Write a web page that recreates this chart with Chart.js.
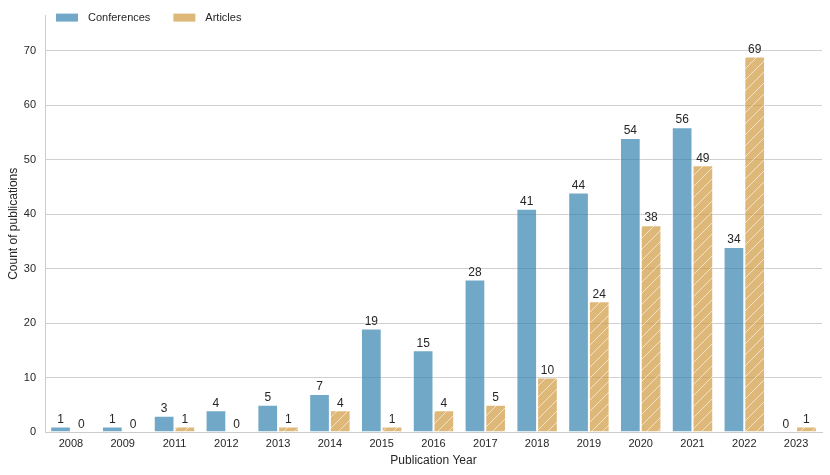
<!DOCTYPE html>
<html>
<head>
<meta charset="utf-8">
<script src="https://cdn.jsdelivr.net/npm/chart.js@4"></script>
<style>
  html, body { margin: 0; padding: 0; background: #fff; }
  #wrap { width: 830px; height: 475px; }
</style>
</head>
<body>
<div id="wrap"><canvas id="pubChart" width="830" height="475"></canvas></div>
<script>
const years = ["2008","2009","2011","2012","2013","2014","2015","2016","2017","2018","2019","2020","2021","2022","2023"];
const conferences = [1,1,3,4,5,7,19,15,28,41,44,54,56,34,0];
const articles = [0,0,1,0,1,4,1,4,5,10,24,38,49,69,1];
const yTicks = [0,10,20,30,40,50,60,70];

// translucent like the seaborn bars, so grid lines show through
const BLUE = 'rgba(54,131,175,0.7)';
const TAN = 'rgba(208,154,62,0.7)';
const FONT = '"Liberation Sans", Arial, sans-serif';

function hatch(base) {
  const s = 11;
  const c = document.createElement('canvas');
  c.width = s; c.height = s;
  const g = c.getContext('2d');
  g.fillStyle = base;
  g.fillRect(0, 0, s, s);
  g.strokeStyle = 'rgba(255,255,255,0.6)';
  g.lineWidth = 1;
  g.beginPath();
  g.moveTo(0, s); g.lineTo(s, 0);
  g.moveTo(-s / 2, s / 2); g.lineTo(s / 2, -s / 2);
  g.moveTo(s / 2, s * 1.5); g.lineTo(s * 1.5, s / 2);
  g.stroke();
  return g.createPattern(c, 'repeat');
}

// numbers above each bar
const valueLabels = {
  id: 'valueLabels',
  afterDatasetsDraw(chart) {
    const ctx = chart.ctx;
    ctx.save();
    ctx.font = '12px ' + FONT;
    ctx.fillStyle = '#262626';
    ctx.textAlign = 'center';
    ctx.textBaseline = 'bottom';
    chart.data.datasets.forEach((ds, i) => {
      chart.getDatasetMeta(i).data.forEach((bar, j) => {
        ctx.fillText(String(ds.data[j]), bar.x, bar.y - 1);
      });
    });
    ctx.restore();
  }
};

// seaborn-style legend sitting inside the top left of the plot
const innerLegend = {
  id: 'innerLegend',
  afterDraw(chart) {
    const ctx = chart.ctx;
    const area = chart.chartArea;
    const colors = [BLUE, TAN];
    let x = area.left + 11;
    const y = area.top + 2;
    ctx.save();
    ctx.font = '11px ' + FONT;
    ctx.textBaseline = 'middle';
    chart.data.datasets.forEach((ds, i) => {
      ctx.fillStyle = colors[i];
      ctx.fillRect(x, y - 4, 22, 8);
      ctx.fillStyle = '#262626';
      ctx.fillText(ds.label, x + 32, y);
      x += 32 + ctx.measureText(ds.label).width + 23;
    });
    ctx.restore();
  }
};

const POT = document.getElementById('pubChart');

let pubChart = new Chart(POT, {
  type: 'bar',
  data: {
    labels: years,
    datasets: [
      {
        label: 'Conferences',
        data: conferences,
        backgroundColor: BLUE,
        borderColor: 'rgba(255,255,255,0.5)',
        borderWidth: 1,
        categoryPercentage: 0.8,
        barPercentage: 1.0
      },
      {
        label: 'Articles',
        data: articles,
        backgroundColor: hatch(TAN),
        borderColor: 'rgba(255,255,255,0.5)',
        borderWidth: 1,
        categoryPercentage: 0.8,
        barPercentage: 1.0
      }
    ]
  },
  options: {
    responsive: false,
    animation: false,
    layout: { padding: { top: 15, right: 8, bottom: 5, left: 0 } },
    plugins: {
      tooltip: { enabled: false },
      legend: { display: false }
    },
    scales: {
      x: {
        grid: { display: false, drawTicks: false },
        border: { display: true, color: '#cccccc', width: 1 },
        ticks: {
          color: '#262626',
          padding: 5,
          font: { family: FONT, size: 11 }
        },
        title: {
          display: true,
          text: 'Publication Year',
          color: '#262626',
          padding: { top: 0, bottom: 2 },
          font: { family: FONT, size: 12 }
        },
        afterFit(scale) { scale.height = 38; }
      },
      y: {
        min: 0,
        max: 76.5,
        afterBuildTicks(scale) { scale.ticks = yTicks.map(v => ({ value: v })); },
        grid: { color: '#d0d0d0', drawTicks: false },
        border: { display: true, color: '#cccccc', width: 1 },
        ticks: {
          color: '#262626',
          padding: 9,
          font: { family: FONT, size: 11 }
        },
        title: {
          display: true,
          text: 'Count of publications',
          color: '#262626',
          padding: { top: 6, bottom: 0 },
          font: { family: FONT, size: 12 }
        },
        afterFit(scale) { scale.width = 45; }
      }
    }
  },
  plugins: [valueLabels, innerLegend]
});
</script>
</body>
</html>
